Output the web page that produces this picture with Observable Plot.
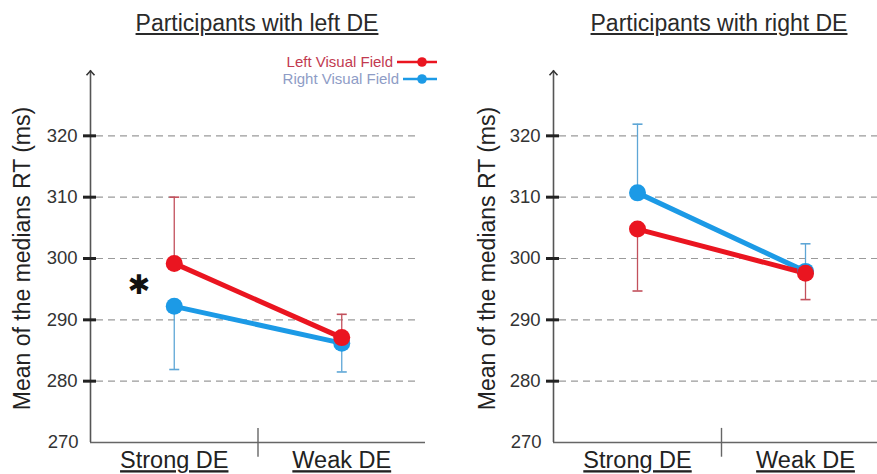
<!DOCTYPE html>
<html><head><meta charset="utf-8">
<script src="https://cdn.jsdelivr.net/npm/d3@7"></script>
<script src="https://cdn.jsdelivr.net/npm/@observablehq/plot@0.6"></script>
<style>
html,body{margin:0;padding:0;background:#fff;overflow:hidden;}
#wrap{position:relative;width:877px;height:474px;font-family:"Liberation Sans",Arial,sans-serif;}
.panel{position:absolute;top:0;}
.title{position:absolute;top:10px;font-size:23px;color:#2a2a2a;text-decoration:underline;white-space:nowrap;transform:translateX(-50%);line-height:27px;}
.leg{position:absolute;font-size:15px;white-space:nowrap;line-height:17px;}
.legsw{position:absolute;}
</style>
</head><body>
<div id="wrap"></div>
<script>
// ---- data ----
const categories = ["Strong DE", "Weak DE"];
const series = ["Left Visual Field", "Right Visual Field"];
const panelTitles = ["Participants with left DE", "Participants with right DE"];
const yLabel = "Mean of the medians RT (ms)";
const yTicks = [280, 290, 300, 310, 320];
const yBottomTick = [270];
const gridValues = [280, 290, 300, 310, 320];

// Participants with left DE
const leftDE_LVF = [299.2, 287.1];
const leftDE_LVF_errEnd = [310.0, 290.9];
const leftDE_RVF = [292.2, 286.2];
const leftDE_RVF_errEnd = [281.9, 281.5];
// Participants with right DE
const rightDE_LVF = [304.8, 297.6];
const rightDE_LVF_errEnd = [294.7, 293.3];
const rightDE_RVF = [310.7, 297.9];
const rightDE_RVF_errEnd = [321.9, 302.4];

const significance = [{x: 0.29, y: 295.7, t: "✱"}];

// ---- styles ----
const lineColors = ["#ea1520", "#1c9ae6"];
const errColors = ["#c2505c", "#5ea6d6"];
const font = '"Liberation Sans", Arial, sans-serif';

const hline = {draw(ctx, size) { const s = Math.sqrt(size / Math.PI); ctx.moveTo(-s, 0); ctx.lineTo(s, 0); }};
const chevron = {draw(ctx, size) { const s = Math.sqrt(size / Math.PI); ctx.moveTo(-s, s * 1.1); ctx.lineTo(0, 0); ctx.lineTo(s, s * 1.1); }};

function panel(means, errEnds, o) {
  const rows = [];
  // draw Right Visual Field first so Left sits on top
  [1, 0].forEach(si => categories.forEach((c, ci) => rows.push({
    series: series[si], si, cat: c, xi: ci + 0.5, mean: means[si][ci], end: errEnds[si][ci]
  })));
  const marks = [
    Plot.ruleY(gridValues, {y: d => d, stroke: "#9a9a9a", strokeWidth: 1.2, strokeDasharray: "7,5", insetLeft: 6, insetRight: o.gridInsetRight}),
    Plot.ruleY([270], {y: d => d, stroke: "#666", strokeWidth: 1.6}),
    Plot.ruleX([0], {x: d => d, y1: 270, y2: 330.6, stroke: "#555", strokeWidth: 1.6}),
    Plot.dot([330.6], {x: () => 0, y: d => d, symbol: chevron, r: 4, stroke: "#333", strokeWidth: 1.6, fill: "none"}),
    Plot.ruleX([1], {x: d => d, y1: 267.6, y2: 272.3, stroke: "#666", strokeWidth: 1.4}),
    Plot.axisY(yTicks, {tickSize: 13, dx: 6, tickPadding: 6, stroke: "#222", strokeWidth: 3, fill: "#333", fontSize: 18.5, label: null}),
    Plot.axisY(yBottomTick, {tickSize: 0, tickPadding: 12, fill: "#333", fontSize: 18.5, label: null}),
    Plot.axisX([0.5, 1.5], {tickSize: 0, tickPadding: 9, tickFormat: d => categories[Math.floor(d)], fontSize: 23.5, fill: "#222", label: null}),
    Plot.text([yLabel], {frameAnchor: "left", textAnchor: "middle", dx: o.labelDx, rotate: -90, fontSize: 23, fill: "#222", text: d => d})
  ];
  [1, 0].forEach(si => {
    const r = rows.filter(d => d.si === si);
    marks.push(
      Plot.ruleX(r, {x: "xi", y1: "mean", y2: "end", stroke: errColors[si], strokeWidth: 1.3}),
      Plot.dot(r, {x: "xi", y: "end", symbol: hline, r: 5, stroke: errColors[si], strokeWidth: 1.6, fill: "none"})
    );
  });
  marks.push(
    Plot.line(rows, {x: "xi", y: "mean", z: "series", stroke: "series", strokeWidth: 5}),
    Plot.dot(rows, {x: "xi", y: "mean", fill: "series", r: 8.5})
  );
  if (o.extra) marks.push(...o.extra);
  const svg = Plot.plot({
    width: o.width, height: 474,
    marginTop: 74, marginBottom: 32, marginLeft: o.marginLeft, marginRight: o.marginRight,
    style: {fontFamily: font, background: "white", overflow: "visible", fontSize: "18.5px"},
    x: {domain: [0, 2], range: o.xRange},
    y: {domain: [270, 330]},
    color: {domain: series, range: lineColors},
    marks
  });
  svg.querySelectorAll('g[aria-label="x-axis tick label"] text').forEach(t => t.style.textDecoration = "underline");
  return svg;
}

const wrap = document.getElementById("wrap");

const left = panel([leftDE_LVF, leftDE_RVF], [leftDE_LVF_errEnd, leftDE_RVF_errEnd], {
  width: 438, marginLeft: 90, marginRight: 13, xRange: [90, 425], labelDx: -68, gridInsetRight: 7,
  extra: [Plot.text(significance, {x: "x", y: "y", text: "t", fontSize: 27, fontWeight: "bold", fill: "#111", fontFamily: "DejaVu Sans"})]
});
const right = panel([rightDE_LVF, rightDE_RVF], [rightDE_LVF_errEnd, rightDE_RVF_errEnd], {
  width: 439, marginLeft: 115, marginRight: 0, xRange: [115, 451], labelDx: -66, gridInsetRight: -20
});

const d1 = document.createElement("div"); d1.className = "panel"; d1.style.left = "0px"; d1.appendChild(left);
const d2 = document.createElement("div"); d2.className = "panel"; d2.style.left = "438px"; d2.appendChild(right);
wrap.appendChild(d1); wrap.appendChild(d2);

// titles
[[257, panelTitles[0]], [719, panelTitles[1]]].forEach(([cx, t]) => {
  const el = document.createElement("div"); el.className = "title"; el.style.left = cx + "px"; el.textContent = t; wrap.appendChild(el);
});

// legend
const legTextColors = ["#c23a50", "#8e9cc6"];
const legRight = [393, 399];
const legY = [62, 79];
series.forEach((s, i) => {
  const el = document.createElement("div"); el.className = "leg";
  el.style.right = (877 - legRight[i]) + "px"; el.style.top = (legY[i] - 9) + "px";
  el.style.color = legTextColors[i]; el.textContent = s; wrap.appendChild(el);
  const x0 = legRight[i] + 4;
  const sw = d3.create("svg").attr("class", "legsw").attr("width", 877).attr("height", 20)
    .style("left", "0px").style("top", (legY[i] - 10) + "px");
  sw.append("line").attr("x1", x0).attr("x2", 437).attr("y1", 10).attr("y2", 10).attr("stroke", lineColors[i]).attr("stroke-width", 2.5);
  sw.append("circle").attr("cx", 422).attr("cy", 10).attr("r", 4.8).attr("fill", lineColors[i]);
  wrap.appendChild(sw.node());
});
</script>
</body></html>
